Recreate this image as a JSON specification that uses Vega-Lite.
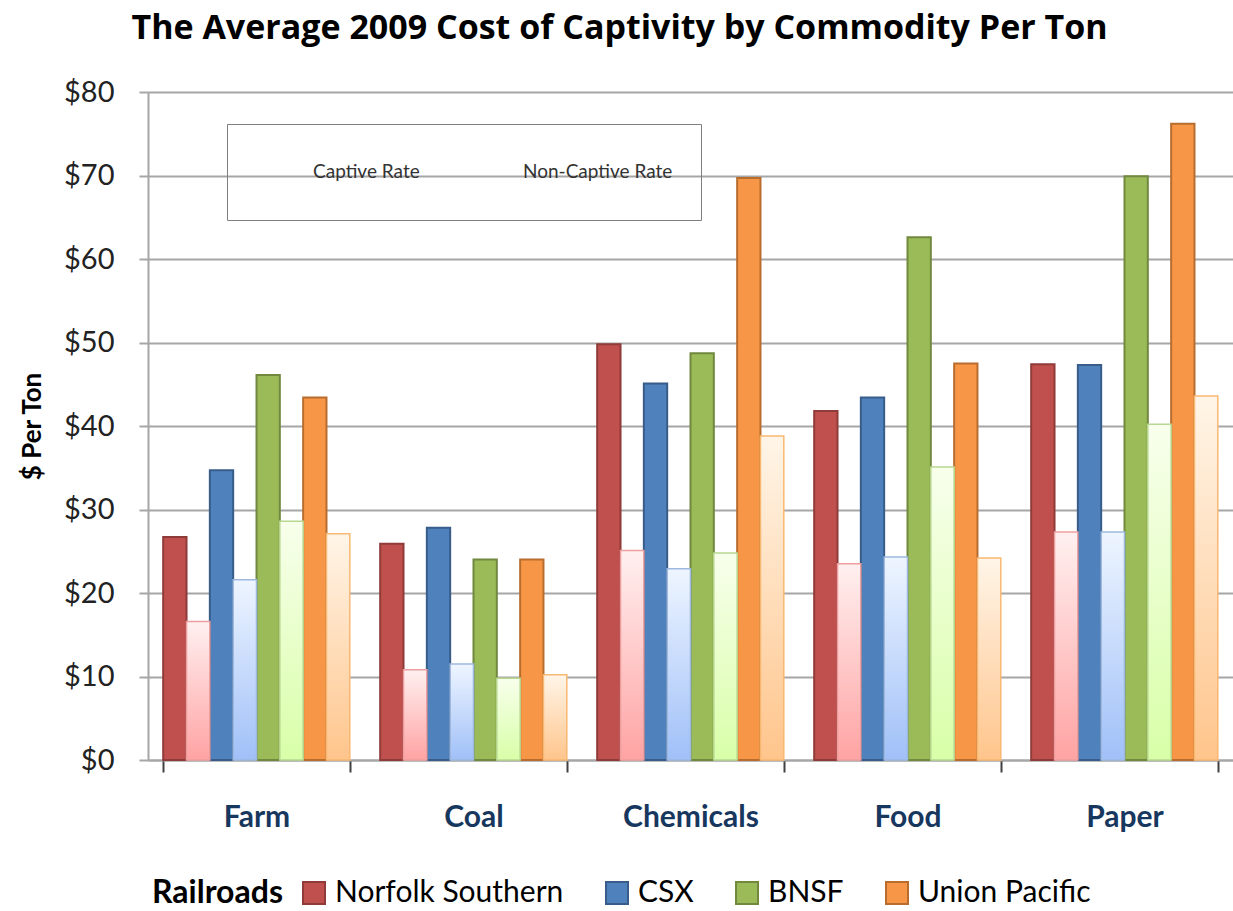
{
  "$schema": "https://vega.github.io/schema/vega-lite/v6.json",
  "width": 1085,
  "height": 668,
  "autosize": {"type": "none"},
  "padding": {"left": 148, "top": 92, "right": 0, "bottom": 151},
  "background": "white",
  "config": {"view": {"stroke": null}},
  "title": {"text": "The Average 2009 Cost of Captivity by Commodity Per Ton", "font": "Open Sans", "fontSize": 34, "fontWeight": "bold", "color": "#000000", "anchor": "middle", "frame": "group", "dx": -71, "offset": 32},
  "data": {"values": [
    {"commodity": "Farm", "railroad": "Norfolk Southern", "rate": "Captive Rate", "series": "NS-C", "value": 26.7},
    {"commodity": "Farm", "railroad": "Norfolk Southern", "rate": "Non-Captive Rate", "series": "NS-N", "value": 16.6},
    {"commodity": "Farm", "railroad": "CSX", "rate": "Captive Rate", "series": "CSX-C", "value": 34.7},
    {"commodity": "Farm", "railroad": "CSX", "rate": "Non-Captive Rate", "series": "CSX-N", "value": 21.6},
    {"commodity": "Farm", "railroad": "BNSF", "rate": "Captive Rate", "series": "BNSF-C", "value": 46.1},
    {"commodity": "Farm", "railroad": "BNSF", "rate": "Non-Captive Rate", "series": "BNSF-N", "value": 28.6},
    {"commodity": "Farm", "railroad": "Union Pacific", "rate": "Captive Rate", "series": "UP-C", "value": 43.4},
    {"commodity": "Farm", "railroad": "Union Pacific", "rate": "Non-Captive Rate", "series": "UP-N", "value": 27.1},
    {"commodity": "Coal", "railroad": "Norfolk Southern", "rate": "Captive Rate", "series": "NS-C", "value": 25.9},
    {"commodity": "Coal", "railroad": "Norfolk Southern", "rate": "Non-Captive Rate", "series": "NS-N", "value": 10.8},
    {"commodity": "Coal", "railroad": "CSX", "rate": "Captive Rate", "series": "CSX-C", "value": 27.8},
    {"commodity": "Coal", "railroad": "CSX", "rate": "Non-Captive Rate", "series": "CSX-N", "value": 11.5},
    {"commodity": "Coal", "railroad": "BNSF", "rate": "Captive Rate", "series": "BNSF-C", "value": 24.0},
    {"commodity": "Coal", "railroad": "BNSF", "rate": "Non-Captive Rate", "series": "BNSF-N", "value": 9.8},
    {"commodity": "Coal", "railroad": "Union Pacific", "rate": "Captive Rate", "series": "UP-C", "value": 24.0},
    {"commodity": "Coal", "railroad": "Union Pacific", "rate": "Non-Captive Rate", "series": "UP-N", "value": 10.2},
    {"commodity": "Chemicals", "railroad": "Norfolk Southern", "rate": "Captive Rate", "series": "NS-C", "value": 49.8},
    {"commodity": "Chemicals", "railroad": "Norfolk Southern", "rate": "Non-Captive Rate", "series": "NS-N", "value": 25.1},
    {"commodity": "Chemicals", "railroad": "CSX", "rate": "Captive Rate", "series": "CSX-C", "value": 45.1},
    {"commodity": "Chemicals", "railroad": "CSX", "rate": "Non-Captive Rate", "series": "CSX-N", "value": 22.9},
    {"commodity": "Chemicals", "railroad": "BNSF", "rate": "Captive Rate", "series": "BNSF-C", "value": 48.7},
    {"commodity": "Chemicals", "railroad": "BNSF", "rate": "Non-Captive Rate", "series": "BNSF-N", "value": 24.8},
    {"commodity": "Chemicals", "railroad": "Union Pacific", "rate": "Captive Rate", "series": "UP-C", "value": 69.7},
    {"commodity": "Chemicals", "railroad": "Union Pacific", "rate": "Non-Captive Rate", "series": "UP-N", "value": 38.8},
    {"commodity": "Food", "railroad": "Norfolk Southern", "rate": "Captive Rate", "series": "NS-C", "value": 41.8},
    {"commodity": "Food", "railroad": "Norfolk Southern", "rate": "Non-Captive Rate", "series": "NS-N", "value": 23.5},
    {"commodity": "Food", "railroad": "CSX", "rate": "Captive Rate", "series": "CSX-C", "value": 43.4},
    {"commodity": "Food", "railroad": "CSX", "rate": "Non-Captive Rate", "series": "CSX-N", "value": 24.3},
    {"commodity": "Food", "railroad": "BNSF", "rate": "Captive Rate", "series": "BNSF-C", "value": 62.6},
    {"commodity": "Food", "railroad": "BNSF", "rate": "Non-Captive Rate", "series": "BNSF-N", "value": 35.1},
    {"commodity": "Food", "railroad": "Union Pacific", "rate": "Captive Rate", "series": "UP-C", "value": 47.5},
    {"commodity": "Food", "railroad": "Union Pacific", "rate": "Non-Captive Rate", "series": "UP-N", "value": 24.2},
    {"commodity": "Paper", "railroad": "Norfolk Southern", "rate": "Captive Rate", "series": "NS-C", "value": 47.4},
    {"commodity": "Paper", "railroad": "Norfolk Southern", "rate": "Non-Captive Rate", "series": "NS-N", "value": 27.3},
    {"commodity": "Paper", "railroad": "CSX", "rate": "Captive Rate", "series": "CSX-C", "value": 47.3},
    {"commodity": "Paper", "railroad": "CSX", "rate": "Non-Captive Rate", "series": "CSX-N", "value": 27.3},
    {"commodity": "Paper", "railroad": "BNSF", "rate": "Captive Rate", "series": "BNSF-C", "value": 69.9},
    {"commodity": "Paper", "railroad": "BNSF", "rate": "Non-Captive Rate", "series": "BNSF-N", "value": 40.2},
    {"commodity": "Paper", "railroad": "Union Pacific", "rate": "Captive Rate", "series": "UP-C", "value": 76.2},
    {"commodity": "Paper", "railroad": "Union Pacific", "rate": "Non-Captive Rate", "series": "UP-N", "value": 43.6}
  ]},
  "encoding": {
    "x": {
      "field": "commodity", "type": "nominal",
      "sort": ["Farm", "Coal", "Chemicals", "Food", "Paper"],
      "scale": {"domain": ["Farm", "Coal", "Chemicals", "Food", "Paper"], "paddingInner": 0.14, "paddingOuter": 0.07},
      "axis": {
        "title": null, "labelAngle": 0, "labelFont": "Lato", "labelFontSize": 30, "labelFontWeight": "bold",
        "labelColor": "#17375E", "labelPadding": 30, "tickBand": "extent", "tickSize": 12, "tickColor": "#404040",
        "tickWidth": 2, "domainColor": "#A6A6A6", "domainWidth": 2, "grid": false
      }
    },
    "xOffset": {
      "field": "series", "type": "nominal",
      "scale": {"domain": ["NS-C", "NS-N", "CSX-C", "CSX-N", "BNSF-C", "BNSF-N", "UP-C", "UP-N"], "paddingInner": 0, "paddingOuter": 0}
    },
    "y": {
      "field": "value", "type": "quantitative",
      "scale": {"domain": [0, 80], "nice": false},
      "axis": {
        "values": [0, 10, 20, 30, 40, 50, 60, 70, 80],
        "labelExpr": "'$' + datum.value",
        "title": "$ Per Ton", "titleFont": "Lato", "titleFontSize": 26, "titleFontWeight": "bold", "titleColor": "#000000",
        "titlePadding": 18,
        "labelFont": "Lato", "labelFontSize": 29, "labelColor": "#222222", "labelPadding": 25,
        "grid": true, "gridColor": "#A6A6A6", "gridWidth": 2,
        "domainColor": "#A6A6A6", "domainWidth": 2, "tickColor": "#A6A6A6", "tickWidth": 2, "tickSize": 9
      }
    }
  },
  "layer": [
    {
      "transform": [{"filter": "datum.rate === 'Captive Rate'"}],
      "mark": {"type": "bar", "strokeWidth": 2},
      "encoding": {
        "color": {
          "field": "railroad", "type": "nominal",
          "scale": {"domain": ["Norfolk Southern", "CSX", "BNSF", "Union Pacific"], "range": ["#C0504D", "#4F81BD", "#9BBB59", "#F79646"]},
          "legend": {"title": "Railroads", "orient": "none", "legendX": 4, "legendY": 786, "direction": "horizontal", "titleOrient": "left",
            "titleFont": "Lato", "titleFontSize": 32, "titleFontWeight": "bold", "titleColor": "#000000", "titlePadding": 16,
            "labelFont": "Lato", "labelFontSize": 30, "labelColor": "#000000", "labelLimit": 400, "labelOffset": 6,
            "symbolType": "square", "symbolSize": 484, "symbolStrokeWidth": 2, "columnPadding": 38}
        },
        "stroke": {
          "field": "railroad", "type": "nominal",
          "scale": {"domain": ["Norfolk Southern", "CSX", "BNSF", "Union Pacific"], "range": ["#8E3B39", "#385D8A", "#71893F", "#B86D2F"]},
          "legend": {"title": "Railroads", "orient": "none", "legendX": 4, "legendY": 786, "direction": "horizontal", "titleOrient": "left",
            "titleFont": "Lato", "titleFontSize": 32, "titleFontWeight": "bold", "titleColor": "#000000", "titlePadding": 16,
            "labelFont": "Lato", "labelFontSize": 30, "labelColor": "#000000", "labelLimit": 400, "labelOffset": 6,
            "symbolType": "square", "symbolSize": 484, "symbolStrokeWidth": 2, "columnPadding": 38}
        },
        "opacity": {
          "field": "rate", "type": "ordinal",
          "scale": {"domain": ["Captive Rate", "Non-Captive Rate"], "range": [1, 1]},
          "legend": {"title": null, "orient": "none", "legendX": 79, "legendY": 32, "direction": "horizontal",
            "strokeColor": "#7F7F7F", "padding": 28, "symbolSize": 1600, "symbolType": "square",
            "symbolFillColor": "transparent", "symbolStrokeColor": "transparent", "symbolStrokeWidth": 0,
            "labelFont": "Lato", "labelFontSize": 19, "labelColor": "#333333", "labelOffset": 18, "columnPadding": 45, "labelLimit": 300,
            "encode": {"symbols": {"update": {"fill": {"value": "transparent"}, "stroke": {"value": "transparent"}, "opacity": {"value": 0}}}}}
        }
      }
    },
    {
      "transform": [{"filter": "datum.series === 'NS-N'"}],
      "mark": {"type": "bar", "stroke": "#EE9E9E", "strokeWidth": 1.5,
        "color": {"gradient": "linear", "x1": 0, "y1": 0, "x2": 0, "y2": 1, "stops": [{"offset": 0, "color": "#FFF0F0"}, {"offset": 1, "color": "#FFA3A3"}]}}
    },
    {
      "transform": [{"filter": "datum.series === 'CSX-N'"}],
      "mark": {"type": "bar", "stroke": "#9DB9E0", "strokeWidth": 1.5,
        "color": {"gradient": "linear", "x1": 0, "y1": 0, "x2": 0, "y2": 1, "stops": [{"offset": 0, "color": "#EEF5FF"}, {"offset": 1, "color": "#A0C0F8"}]}}
    },
    {
      "transform": [{"filter": "datum.series === 'BNSF-N'"}],
      "mark": {"type": "bar", "stroke": "#B8D890", "strokeWidth": 1.5,
        "color": {"gradient": "linear", "x1": 0, "y1": 0, "x2": 0, "y2": 1, "stops": [{"offset": 0, "color": "#F8FFEC"}, {"offset": 1, "color": "#D8FFA8"}]}}
    },
    {
      "transform": [{"filter": "datum.series === 'UP-N'"}],
      "mark": {"type": "bar", "stroke": "#F9B872", "strokeWidth": 1.5,
        "color": {"gradient": "linear", "x1": 0, "y1": 0, "x2": 0, "y2": 1, "stops": [{"offset": 0, "color": "#FFF5E8"}, {"offset": 1, "color": "#FFC58C"}]}}
    }
  ]
}
